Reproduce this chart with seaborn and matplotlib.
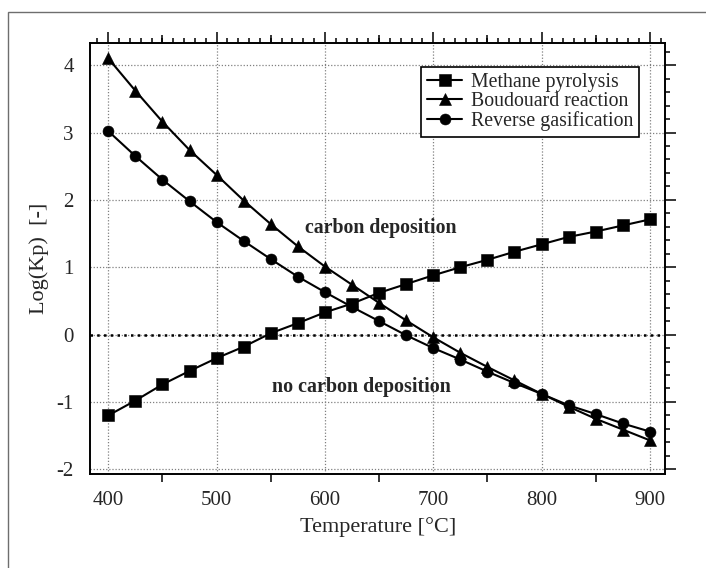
import numpy as np
import pandas as pd
import matplotlib
matplotlib.use("Agg")
import matplotlib.pyplot as plt
from matplotlib.patches import Rectangle
from matplotlib.ticker import MultipleLocator, FixedLocator, NullFormatter
import seaborn as sns

# Equilibrium constants of the carbon forming reactions
temperature = [400, 425, 450, 475, 500, 525, 550, 575, 600, 625, 650,
               675, 700, 725, 750, 775, 800, 825, 850, 875, 900]
methane_pyrolysis = [-1.20, -0.98, -0.74, -0.54, -0.35, -0.18, 0.02, 0.17, 0.33, 0.46, 0.62,
                     0.75, 0.88, 1.00, 1.11, 1.23, 1.34, 1.45, 1.53, 1.62, 1.71]
boudouard_reaction = [4.10, 3.62, 3.16, 2.74, 2.37, 1.99, 1.64, 1.31, 1.01, 0.74, 0.47,
                      0.21, -0.04, -0.27, -0.48, -0.68, -0.88, -1.07, -1.25, -1.41, -1.57]
reverse_gasification = [3.02, 2.65, 2.30, 1.98, 1.67, 1.39, 1.12, 0.86, 0.63, 0.41, 0.20,
                        -0.01, -0.20, -0.37, -0.55, -0.72, -0.88, -1.05, -1.18, -1.32, -1.44]
series_names = ["Methane pyrolysis", "Boudouard reaction", "Reverse gasification"]
series_markers = ["s", "^", "o"]
series_sizes = [8.2, 8.0, 7.9]

sns.set_style("white")
plt.rcParams["font.family"] = ["Liberation Serif", "DejaVu Serif"]

fig = plt.figure(figsize=(7.06, 5.68), dpi=100)
ax = fig.add_axes([0.1275, 0.165, 0.9424 - 0.1275, 0.9238 - 0.165])

for values, name, mk, ms in zip([methane_pyrolysis, boudouard_reaction, reverse_gasification],
                                series_names, series_markers, series_sizes):
    df = pd.DataFrame({"T": temperature, "logKp": values})
    sns.lineplot(data=df, x="T", y="logKp", ax=ax, color="black", lw=1.5,
                 marker=mk, markersize=ms, markeredgewidth=0.4, markeredgecolor="black",
                 label=name, zorder=3)

# equilibrium boundary
ax.axhline(0, color="black", lw=1.8, ls=(0, (1.0, 1.7)), zorder=2)

ax.set_xlim(383.1, 914.3)
ax.set_ylim(-2.074, 4.325)
ax.xaxis.set_major_locator(MultipleLocator(100))
ax.xaxis.set_minor_locator(MultipleLocator(10))
ax.yaxis.set_major_locator(MultipleLocator(1))
ax.yaxis.set_minor_locator(MultipleLocator(0.2))
ax.yaxis.set_major_formatter(matplotlib.ticker.FuncFormatter(lambda v, p: f"{v:.0f}"))

ax.grid(True, which="major", color="#808080", lw=0.9, ls=(0, (1, 1.5)))
for side in ax.spines.values():
    side.set_linewidth(1.4)
    side.set_color("black")

ax.tick_params(which="both", direction="out", top=True, right=True,
               color="black", width=1.1, labelsize=15)
ax.tick_params(which="major", length=7.8, pad=4.0)
ax.tick_params(which="minor", length=3.6)

# intermediate ticks every 50 °C
for loc in ("bottom", "top"):
    sec = ax.secondary_xaxis(loc)
    sec.spines[loc].set_visible(False)
    sec.xaxis.set_major_locator(FixedLocator([450, 550, 650, 750, 850]))
    sec.xaxis.set_major_formatter(NullFormatter())
    sec.tick_params(direction="out", length=5.8, width=1.1, color="black")

ax.set_xlabel("Temperature [°C]", fontsize=16, labelpad=5)
ax.set_ylabel("Log(Kp)  [-]", fontsize=16, labelpad=5)

ax.text(651.5, 1.58, "carbon deposition", fontsize=14.3, fontweight="bold",
        ha="center", va="center")
ax.text(633.5, -0.78, "no carbon deposition", fontsize=14.4, fontweight="bold",
        ha="center", va="center")

leg = ax.legend(loc="upper right", bbox_to_anchor=(0.9548, 0.9457), borderaxespad=0,
                fontsize=14.3, frameon=True, fancybox=False, edgecolor="black",
                handlelength=1.75, handletextpad=0.45, labelspacing=0.0,
                borderpad=0.3)
leg.get_frame().set_linewidth(1.2)
leg.get_frame().set_alpha(1)

# outer frame of the figure
fig.patches.append(Rectangle((8.3 / 706, -0.1), 1.2, 0.9794 + 0.1,
                             transform=fig.transFigure, fill=False,
                             edgecolor="#6e6e6e", lw=1.0))

fig.savefig("out.png", dpi=100)
